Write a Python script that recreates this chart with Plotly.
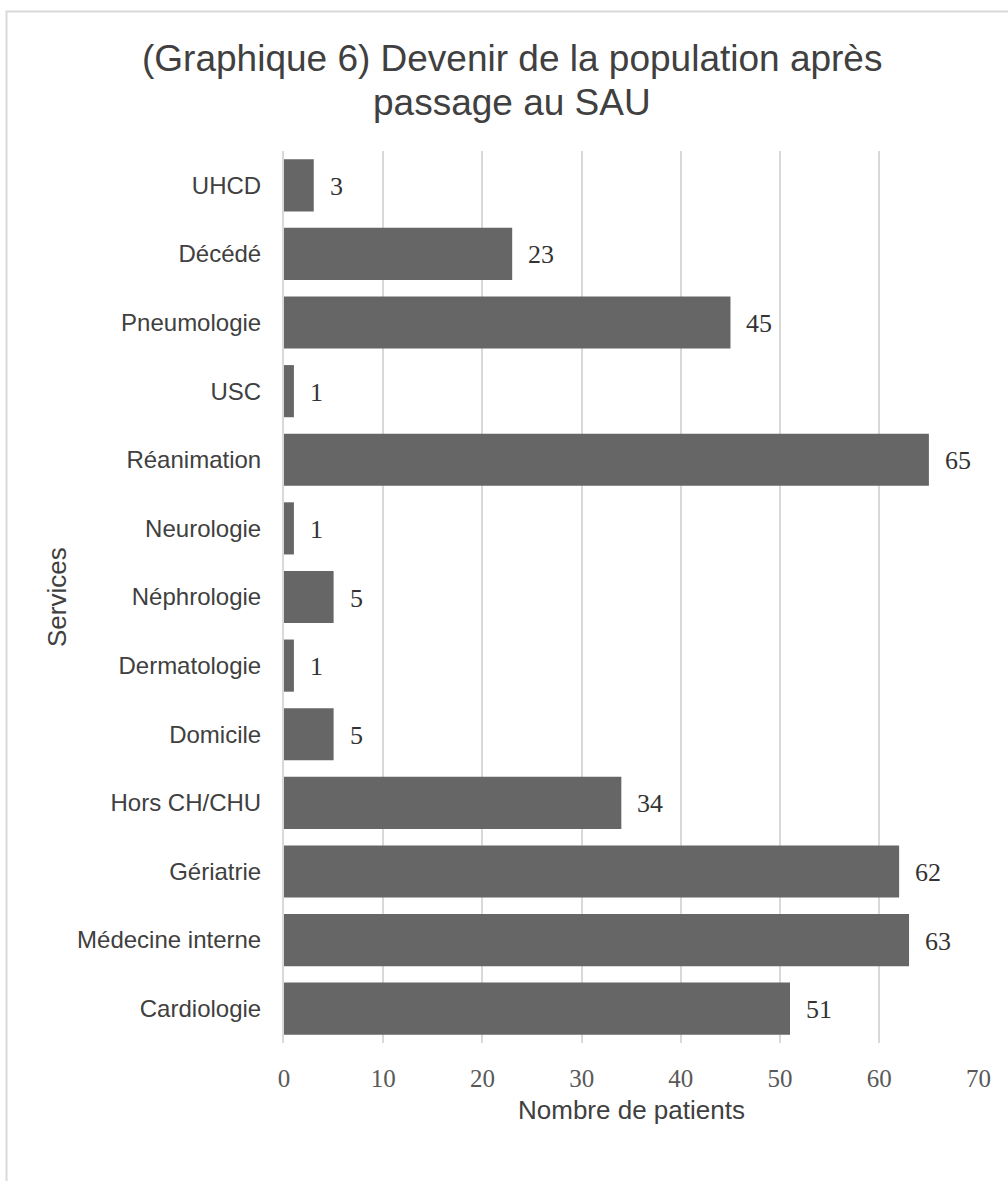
import plotly.graph_objects as go

# Destination services after the emergency unit, listed top to bottom
services = [
    "UHCD", "Décédé", "Pneumologie", "USC", "Réanimation", "Neurologie",
    "Néphrologie", "Dermatologie", "Domicile", "Hors CH/CHU", "Gériatrie",
    "Médecine interne", "Cardiologie",
]
patients = [3, 23, 45, 1, 65, 1, 5, 1, 5, 34, 62, 63, 51]
x_ticks = [0, 10, 20, 30, 40, 50, 60, 70]

SANS = "Liberation Sans, Arial, sans-serif"
SERIF = "Liberation Serif, Cambria, serif"
TEXT = "#404040"
GRID = "#d9d9d9"
BAR = "#666666"

W, H = 1008, 1181
L, R, T, B = 284, 29, 151, 138
PW, PH = W - L - R, H - T - B


def px_x(x):
    return (x - L) / PW


def px_y(y):
    return (H - B - y) / PH


fig = go.Figure(
    go.Bar(
        x=patients,
        y=services,
        orientation="h",
        marker=dict(color=BAR, line=dict(width=0)),
        hoverinfo="x+y",
    )
)

# Value labels next to each bar
for s, v in zip(services, patients):
    fig.add_annotation(
        x=v, y=s, text=str(v), showarrow=False,
        xanchor="left", yanchor="middle", xshift=14, yshift=-1,
        font=dict(family=SERIF, size=26, color="#333333"),
    )

# Two-line title
fig.add_annotation(
    x=px_x(512), y=px_y(58), xref="paper", yref="paper",
    text="(Graphique 6) Devenir de la population après",
    showarrow=False, xanchor="center", yanchor="middle",
    font=dict(family=SANS, size=37, color=TEXT),
)
fig.add_annotation(
    x=px_x(512), y=px_y(102), xref="paper", yref="paper",
    text="passage au SAU",
    showarrow=False, xanchor="center", yanchor="middle",
    font=dict(family=SANS, size=37, color=TEXT),
)

# Axis titles
fig.add_annotation(
    x=px_x(631), y=px_y(1110), xref="paper", yref="paper",
    text="Nombre de patients", showarrow=False,
    xanchor="center", yanchor="middle",
    font=dict(family=SANS, size=26, color=TEXT),
)
fig.add_annotation(
    x=px_x(57), y=px_y(597), xref="paper", yref="paper",
    text="Services", showarrow=False, textangle=-90,
    xanchor="center", yanchor="middle",
    font=dict(family=SANS, size=26, color=TEXT),
)

# Chart frame
fig.add_shape(
    type="rect", xref="paper", yref="paper",
    x0=px_x(6.5), x1=px_x(1015), y0=px_y(1190), y1=px_y(11.5),
    line=dict(color=GRID, width=2), fillcolor="rgba(0,0,0,0)", layer="below",
)

fig.update_layout(
    width=W, height=H,
    margin=dict(l=L, r=R, t=T, b=B, pad=0),
    paper_bgcolor="white", plot_bgcolor="white",
    bargap=0.24,
    showlegend=False,
)
fig.update_xaxes(
    range=[0, 70.05], tickvals=x_ticks, ticktext=[str(t) for t in x_ticks],
    showgrid=True, gridcolor=GRID, gridwidth=2,
    zeroline=False, showline=False,
    ticks="", ticklabelstandoff=18,
    tickfont=dict(family=SERIF, size=25, color="#595959"),
)
fig.update_yaxes(
    autorange="reversed",
    showgrid=False, zeroline=False,
    showline=True, linecolor=GRID, linewidth=2,
    ticks="", ticklabelstandoff=16,
    tickfont=dict(family=SANS, size=24, color=TEXT),
)

fig.write_html("out.html")
